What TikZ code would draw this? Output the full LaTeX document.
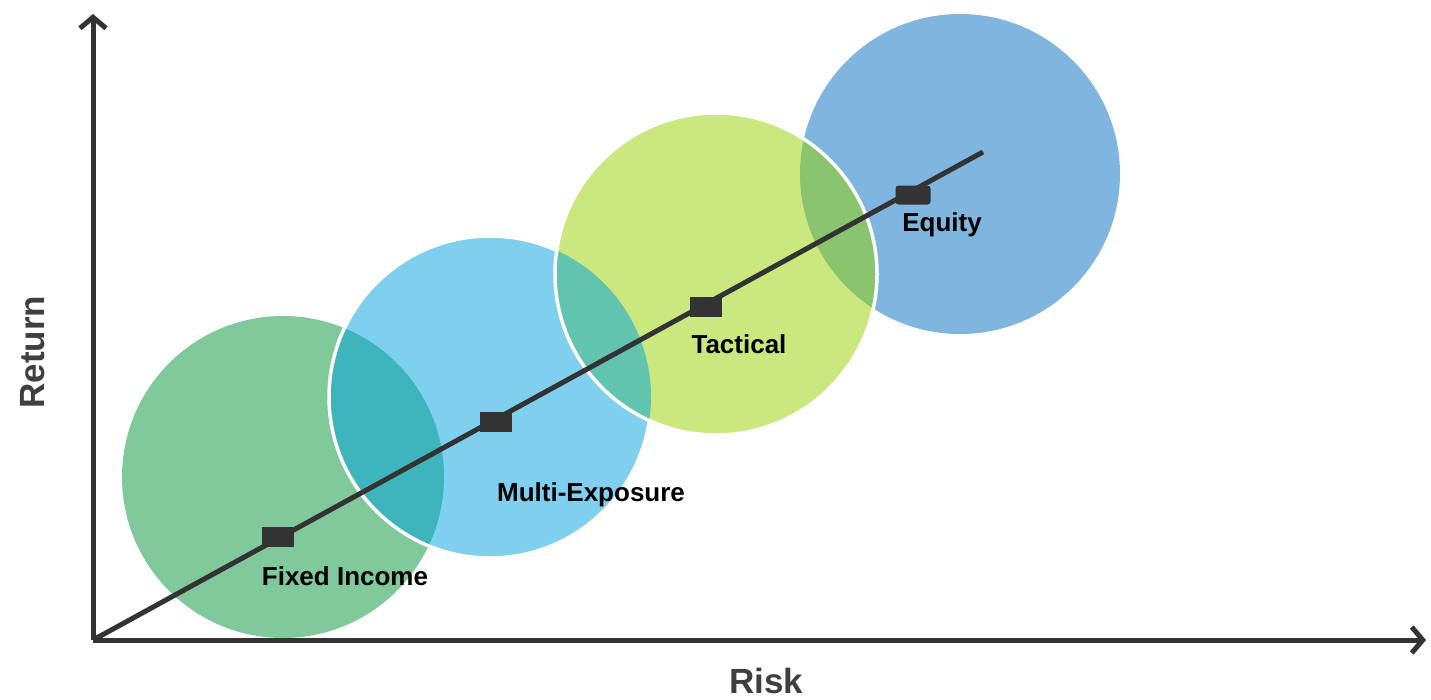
\documentclass[tikz,border=0pt]{standalone}
\usepackage{fontspec}
\setmainfont{Liberation Sans}
\usetikzlibrary{arrows.meta}
\definecolor{fixgreen}{HTML}{7FC99B}
\definecolor{multiblue}{HTML}{7FCFEE}
\definecolor{tactlime}{HTML}{CBE87E}
\definecolor{eqblue}{HTML}{7FB5DE}
\definecolor{fixmulti}{HTML}{3EB5BC}
\definecolor{multitact}{HTML}{60C4AE}
\definecolor{tacteq}{HTML}{8AC46F}
\definecolor{axisgray}{HTML}{333333}
\definecolor{titlegray}{HTML}{3F3F3F}
\newcommand{\bubble}[4]{\fill[#4] (#1,#2) circle (#3pt);}
\newcommand{\lens}[7]{\begin{scope} \clip (#1,#2) circle (#3pt); \fill[#7] (#4,#5) circle (#6pt); \end{scope}}
\newcommand{\rim}[3]{\draw[white, line width=3.5pt] (#1,#2) circle (#3pt);}
\tikzset{
  axis/.style={draw=axisgray, line width=5pt, -{Straight Barb[length=11pt,width=26pt,line width=5pt]}},
  marker/.style={fill=axisgray, minimum width=32pt, minimum height=20pt, inner sep=0pt},
  tag/.style={font=\fontsize{26}{30}\selectfont\bfseries, anchor=base, inner sep=0pt},
  title/.style={font=\fontsize{35}{40}\selectfont\bfseries, text=titlegray, anchor=base, inner sep=0pt}
}
\begin{document}
\begin{tikzpicture}[x=1pt,y=-1pt]
        \useasboundingbox (0,0) rectangle (1431,699);
        % bubbles
        \bubble{283}{477}{161}{fixgreen}
        \bubble{960}{174}{160}{eqblue}
        \bubble{490}{397}{161}{multiblue}
        \lens{283}{477}{161}{490}{397}{161}{fixmulti}
        \rim{490}{397}{161}
        \bubble{716}{274}{161}{tactlime}
        \lens{490}{397}{161}{716}{274}{161}{multitact}
        \lens{960}{174}{160}{716}{274}{161}{tacteq}
        \rim{716}{274}{161}
        % axes
        \coordinate (origin) at (93,640);
        \coordinate (ytop) at (93,14);
        \coordinate (xend) at (1426,640);
        \draw[axis] (origin) -- (ytop);
        \draw[axis] (origin) -- (xend);
        % trend line
        \coordinate (trend) at (983,152);
        \draw[axisgray, line width=5pt] (origin) -- (trend);
        % markers
        \node[marker] (fi) at (278,537) {};
        \node[marker] (me) at (496,422) {};
        \node[marker] (ta) at (706,307) {};
        \node[marker, minimum width=35pt, minimum height=19pt, rounded corners=3pt] (eq) at (913,195) {};
        % labels
        \node[tag] (fitext) at (345,585) {Fixed Income};
        \node[tag] (metext) at (591,501) {Multi-Exposure};
        \node[tag] (tatext) at (739,353) {Tactical};
        \node[tag] (eqtext) at (942,231) {Equity};
        % axis titles
        \node[title] (risk) at (766,693) {Risk};
        \node[title, rotate=90] (ret) at (44,352) {Return};
\end{tikzpicture}
\end{document}
